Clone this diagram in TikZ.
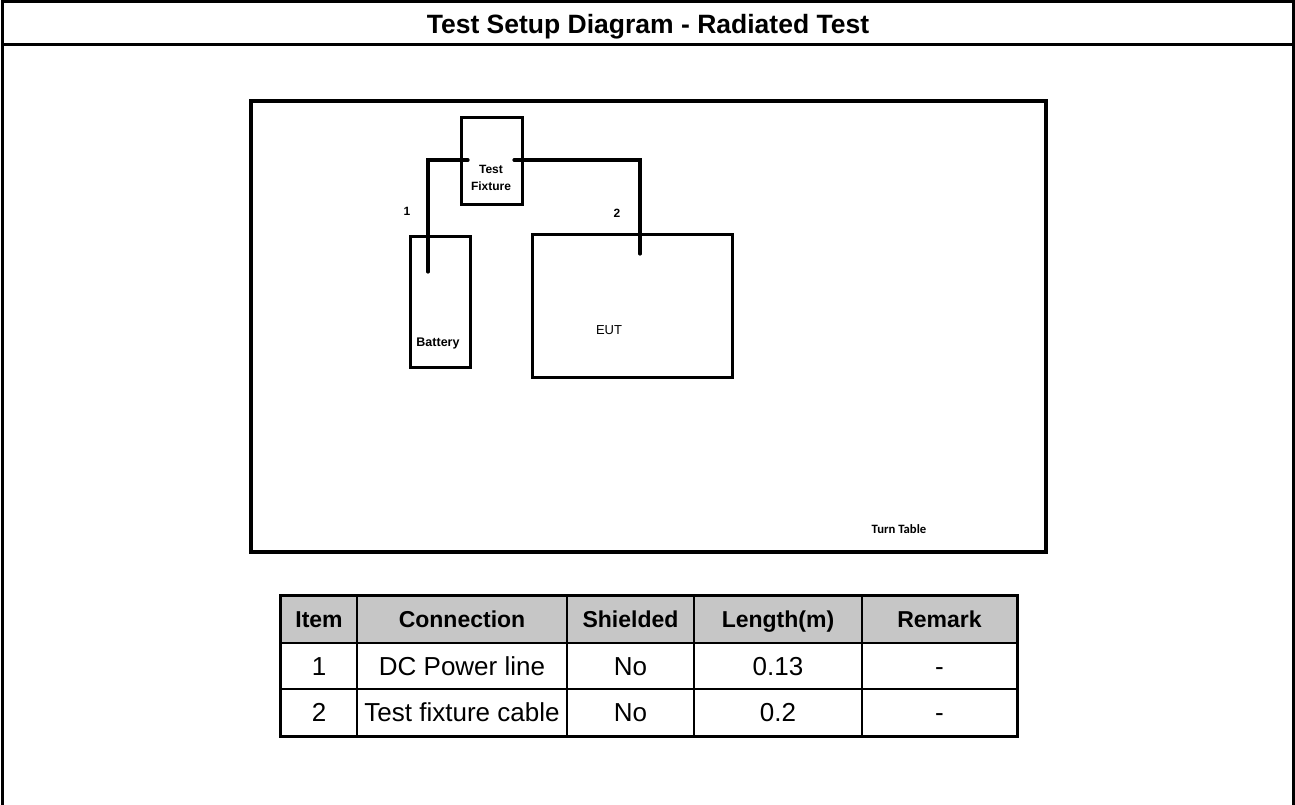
\documentclass[tikz,border=0pt]{standalone}
\usepackage{fontspec}
\setmainfont{Liberation Sans}
\newfontfamily\calibri{Carlito}
\begin{document}
\begin{tikzpicture}[x=1pt,y=-1pt,
  frame/.style={line width=3pt},
  unit/.style={draw,line width=3pt,inner sep=0pt},
  cable/.style={line width=3.2pt,line cap=round},
  cell/.style={draw,line width=1.6pt,inner sep=0pt,text height=18.6pt,text depth=0pt,
    font=\fontsize{26}{28}\selectfont},
  headcell/.style={cell,fill=gray!45,text height=16.5pt,font=\bfseries\fontsize{23}{25}\selectfont},
  lbl/.style={font=\bfseries\fontsize{12}{14}\selectfont}]
\useasboundingbox (0,0) rectangle (1295,805);

% page frame with title row
\draw[frame] (2,805) -- (2,2) -- (1293,2) -- (1293,805);
\draw[frame] (2,45) -- (1293,45);
\node[font=\bfseries\fontsize{26.5}{28}\selectfont,text height=18.4pt,text depth=0pt] (title) at (648,24) {Test Setup Diagram - Radiated Test};

% turn table outline
\node[unit,line width=4pt,minimum width=795pt,minimum height=451pt] (table) at (648.5,326.5) {};
\node[font=\calibri\bfseries\fontsize{12.7}{14}\selectfont] (tt) at (899,529) {Turn Table};

% equipment
\node[unit,minimum width=61pt,minimum height=87pt] (fixture) at (491.5,161.5) {};
\node[lbl,align=center,font=\bfseries\fontsize{12}{17}\selectfont] (fixlbl) at (491,178) {Test\\Fixture};
\node[unit,minimum width=60pt,minimum height=131pt] (battery) at (440,301.5) {};
\node[lbl,font=\bfseries\fontsize{12.5}{14}\selectfont] (batlbl) at (438,343) {Battery};
\node[unit,minimum width=200pt,minimum height=143pt] (eut) at (632,305.5) {};
\node[font=\fontsize{13}{15}\selectfont] (eutlbl) at (609,330) {EUT};

% cable end points
\coordinate (c1a) at (428,272);
\coordinate (c1b) at (468,160);
\coordinate (c2a) at (514,160);
\coordinate (c2b) at (640,254);

% cables
\draw[cable] (c1a) |- (c1b);
\draw[cable] (c2a) -| (c2b);
\node[lbl] (n1) at (407,211) {1};
\node[lbl] (n2) at (617,213) {2};

% cable list
\def\rA{619.5}\def\rB{666}\def\rC{712.5}
\node[headcell,minimum width=76pt,minimum height=47pt] (h1) at (319,\rA) {Item};
\node[headcell,minimum width=210pt,minimum height=47pt] (h2) at (462,\rA) {Connection};
\node[headcell,minimum width=127pt,minimum height=47pt] (h3) at (630.5,\rA) {Shielded};
\node[headcell,minimum width=168pt,minimum height=47pt] (h4) at (778,\rA) {Length(m)};
\node[headcell,minimum width=155pt,minimum height=47pt] (h5) at (939.5,\rA) {Remark};

\node[cell,minimum width=76pt,minimum height=46pt] (a1) at (319,\rB) {1};
\node[cell,minimum width=210pt,minimum height=46pt] (a2) at (462,\rB) {DC Power line};
\node[cell,minimum width=127pt,minimum height=46pt] (a3) at (630.5,\rB) {No};
\node[cell,minimum width=168pt,minimum height=46pt] (a4) at (778,\rB) {0.13};
\node[cell,minimum width=155pt,minimum height=46pt] (a5) at (939.5,\rB) {-};

\node[cell,minimum width=76pt,minimum height=47pt] (b1) at (319,\rC) {2};
\node[cell,minimum width=210pt,minimum height=47pt] (b2) at (462,\rC) {Test fixture cable};
\node[cell,minimum width=127pt,minimum height=47pt] (b3) at (630.5,\rC) {No};
\node[cell,minimum width=168pt,minimum height=47pt] (b4) at (778,\rC) {0.2};
\node[cell,minimum width=155pt,minimum height=47pt] (b5) at (939.5,\rC) {-};

\draw[line width=3pt] (h1.north west) rectangle (b5.south east);
\end{tikzpicture}
\end{document}
